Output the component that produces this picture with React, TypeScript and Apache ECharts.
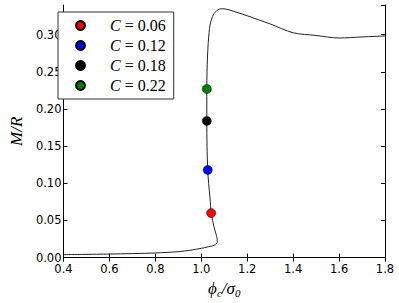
import React, { useEffect, useRef } from "react";
import * as echarts from "echarts";

const curveX = [0.4, 0.6, 0.8, 0.9, 0.95, 1.0, 1.03, 1.05, 1.062, 1.068, 1.07, 1.068, 1.063, 1.055, 1.048, 1.043, 1.038, 1.032, 1.028, 1.025, 1.024, 1.024, 1.025, 1.027, 1.03, 1.034, 1.038, 1.045, 1.054, 1.066, 1.08, 1.094, 1.12, 1.2, 1.3, 1.4, 1.5, 1.6, 1.7, 1.8];
const curveY = [0.004, 0.0048, 0.0062, 0.008, 0.0098, 0.0125, 0.0145, 0.016, 0.0175, 0.0195, 0.022, 0.027, 0.033, 0.042, 0.052, 0.06, 0.08, 0.1, 0.118, 0.15, 0.184, 0.227, 0.25, 0.27, 0.288, 0.303, 0.313, 0.321, 0.328, 0.332, 0.3345, 0.335, 0.3335, 0.3255, 0.3145, 0.3026, 0.299, 0.2956, 0.297, 0.2983];

const pointNames = ["C = 0.06", "C = 0.12", "C = 0.18", "C = 0.22"];
const pointX = [1.043, 1.028, 1.024, 1.024];
const pointY = [0.06, 0.118, 0.184, 0.227];
const pointColors = ["#ff0000", "#0000ff", "#000000", "#008000"];

const xTicks = { min: 0.4, max: 1.8, interval: 0.2 };
const yTicks = { min: 0, max: 0.34, interval: 0.05 };

export default function App() {
  const ref = useRef<HTMLDivElement>(null);
  useEffect(() => {
    if (!ref.current) return;
    const chart = echarts.init(ref.current, null, { renderer: "svg" });
    const sans = "DejaVu Sans";
    const serif = "Liberation Serif";
    const axisLineStyle = { color: "#000", width: 1 };
    const tick = { show: true, inside: true, length: 4, lineStyle: { color: "#000", width: 1 } };
    const scatterSeries = pointNames.map((name, i) => ({
      type: "scatter",
      name,
      data: [[pointX[i], pointY[i]]],
      symbol: "circle",
      symbolSize: 9,
      itemStyle: { color: pointColors[i], borderColor: "#000", borderWidth: 0.5, opacity: 1 },
      z: 5,
    }));
    chart.setOption({
      animation: false,
      grid: { left: 51, right: 14, top: 5, bottom: 40, containLabel: false },
      xAxis: [
        {
          type: "value",
          min: xTicks.min,
          max: xTicks.max,
          interval: xTicks.interval,
          position: "bottom",
          axisLine: { show: true, lineStyle: axisLineStyle },
          axisTick: tick,
          splitLine: { show: false },
          axisLabel: {
            formatter: (v: number) => v.toFixed(1),
            fontFamily: sans,
            fontSize: 11.5,
            color: "#000",
            margin: 5,
          },
          name: "{i|ϕ}{s|c}{i|/σ}{s|0}",
          nameLocation: "middle",
          nameGap: 20,
          nameTextStyle: {
            rich: {
              i: { fontFamily: serif, fontStyle: "italic", fontSize: 17, color: "#000" },
              s: { fontFamily: serif, fontStyle: "italic", fontSize: 11, color: "#000", padding: [9, 0, 0, 0] },
            },
          },
        },
        {
          type: "value",
          min: xTicks.min,
          max: xTicks.max,
          interval: xTicks.interval,
          position: "top",
          axisLine: { show: true, lineStyle: axisLineStyle },
          axisTick: tick,
          splitLine: { show: false },
          axisLabel: { show: false },
        },
      ],
      yAxis: [
        {
          type: "value",
          min: yTicks.min,
          max: yTicks.max,
          interval: yTicks.interval,
          position: "left",
          axisLine: { show: true, lineStyle: axisLineStyle },
          axisTick: tick,
          splitLine: { show: false },
          axisLabel: {
            formatter: (v: number) => v.toFixed(2),
            fontFamily: sans,
            fontSize: 11.5,
            color: "#000",
            margin: 2,
            showMaxLabel: false,
          },
          name: "M/R",
          nameLocation: "middle",
          nameGap: 38,
          nameTextStyle: { fontFamily: serif, fontStyle: "italic", fontSize: 17, color: "#000" },
        },
        {
          type: "value",
          min: yTicks.min,
          max: yTicks.max,
          interval: yTicks.interval,
          position: "right",
          axisLine: { show: true, lineStyle: axisLineStyle },
          axisTick: tick,
          splitLine: { show: false },
          axisLabel: { show: false },
        },
      ],
      legend: {
        left: 58,
        top: 12,
        orient: "vertical",
        data: pointNames,
        icon: "circle",
        itemWidth: 9,
        itemHeight: 9,
        itemGap: 3,
        padding: [5, 8, 5, 17],
        borderColor: "#333",
        borderWidth: 1,
        backgroundColor: "#fff",
        textStyle: {
          fontFamily: serif,
          fontSize: 16,
          lineHeight: 17,
          color: "#000",
          rich: {
            c: { fontFamily: serif, fontStyle: "italic", fontSize: 16, color: "#000", padding: [0, 0, 0, 20] },
            t: { fontFamily: serif, fontSize: 16, color: "#000" },
          },
        },
        formatter: (name: string) => "{c|C}{t|" + name.slice(1) + "}",
        selectedMode: false,
      },
      series: [
        {
          type: "line",
          data: curveX.map((x, i) => [x, curveY[i]]),
          showSymbol: false,
          smooth: 0.3,
          lineStyle: { color: "#222", width: 1 },
          silent: true,
          z: 2,
        },
        ...scatterSeries,
      ],
    });
    return () => chart.dispose();
  }, []);
  return <div ref={ref} style={{ width: 399, height: 303, position: "absolute", left: 0, top: 0 }} />;
}
